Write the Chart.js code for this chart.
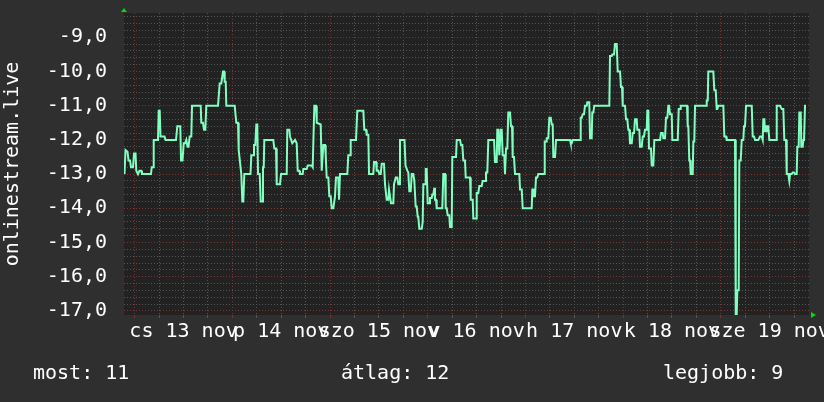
<!DOCTYPE html>
<html lang="hu">
<head>
    <meta charset="UTF-8">
    <title>onlinestream.live</title>
    <script src="https://cdn.jsdelivr.net/npm/chart.js"></script>
    <style>
        * { margin: 0; padding: 0; box-sizing: border-box; }
        body { background: #2f2f2f; font-family: 'DejaVu Sans Mono', monospace; }
        .wrap { position: relative; width: 824px; height: 402px; background: #2f2f2f; }
        .legend { position: absolute; top: 360px; color: #fff; font-size: 20px; line-height: 24px; white-space: pre; }
    </style>
</head>
<body>
<div class="wrap">
    <canvas id="chart" width="824" height="402"></canvas>
    <div class="legend" style="left:33px">most: 11</div>
    <div class="legend" style="left:341px">átlag: 12</div>
    <div class="legend" style="left:663px">legjobb: 9</div>
</div>
<script>
// time in hours since 13 nov 00:00
const hours = [
    -2.51,-2.26,-1.77,-1.52,-1.15,-0.91,-0.42,-0.17,0.2,0.39,
    0.81,1.18,1.62,1.79,4.0,4.18,4.5,4.67,5.72,5.9,
    6.14,6.34,7.32,7.57,10.15,10.47,11.2,11.38,11.74,12.04,
    12.36,12.68,12.97,13.22,13.51,13.91,14.08,16.22,16.36,16.78,
    17.03,17.35,17.59,20.47,20.88,21.28,21.7,21.94,22.11,22.36,
    22.51,24.57,24.96,25.38,25.55,26.19,26.44,26.68,26.93,28.45,
    28.65,29.07,29.31,29.63,29.88,30.12,30.3,30.71,30.96,31.28,
    31.52,31.7,31.84,34.05,34.3,34.72,34.89,35.7,35.95,37.35,
    37.49,37.99,38.16,38.72,39.39,39.8,40.05,40.44,40.61,41.28,
    41.43,42.26,42.51,43.49,43.73,44.13,44.55,44.72,45.7,45.95,
    46.34,46.76,46.93,47.17,47.57,47.81,48.16,48.4,48.8,49.21,
    49.46,50.02,50.2,50.44,52.24,52.48,52.9,53.07,54.37,54.69,
    56.17,56.41,56.83,57.0,57.4,57.57,58.62,58.8,59.29,59.46,
    59.85,60.1,60.44,60.69,61.25,61.5,61.74,61.92,62.31,62.48,
    62.97,63.54,63.71,64.13,64.52,64.77,65.01,65.18,66.29,66.54,
    66.98,67.22,67.47,67.81,68.06,68.45,68.7,69.04,69.29,69.53,
    69.68,69.93,70.52,70.76,70.91,71.33,71.5,71.74,71.99,72.38,
    72.55,72.97,73.12,73.37,73.61,73.78,74.03,74.2,75.58,75.82,
    76.24,76.41,76.66,76.9,77.3,77.47,77.89,78.03,78.94,79.12,
    79.93,80.17,80.49,80.74,81.15,81.33,82.38,82.56,83.05,83.19,
    83.86,84.03,84.42,84.67,85.26,85.5,86.07,86.31,86.63,86.88,
    88.28,88.53,88.94,89.09,89.34,89.58,89.75,89.93,90.17,90.42,
    90.81,90.98,91.23,91.55,91.79,92.21,92.46,92.7,92.87,93.19,
    93.44,94.5,94.67,95.09,95.33,97.54,97.69,97.94,98.11,98.35,
    98.6,98.92,99.16,100.57,100.74,101.06,101.23,101.62,101.87,102.21,
    102.46,102.7,102.85,103.27,103.51,106.95,107.13,107.37,107.62,109.41,
    109.58,109.83,110.07,110.39,110.64,111.06,111.2,111.69,111.87,112.28,
    112.43,112.68,112.92,116.61,116.78,117.2,117.35,117.76,118.01,118.43,
    118.67,119.24,119.48,119.73,119.9,120.47,120.71,121.03,121.28,121.52,
    121.69,122.11,122.36,122.68,122.92,123.34,123.49,123.98,124.15,124.57,
    124.82,125.13,125.38,125.8,125.95,126.19,126.36,126.85,127.03,127.42,
    127.67,129.07,129.31,129.73,129.88,130.29,130.54,130.86,131.11,131.28,
    131.52,131.94,132.09,133.42,133.66,133.98,134.15,135.7,135.87,136.02,
    136.26,136.44,136.61,137.1,137.25,137.49,137.67,140.37,140.54,140.79,
    140.93,142.16,142.41,142.75,143.0,143.14,143.39,144.62,144.87,145.28,
    145.45,147.49,147.67,147.91,148.06,148.4,148.55,148.89,149.14,149.53,
    149.71,149.95,150.2,151.6,151.84,152.16,152.41,153.22,153.64,154.05,
    154.3,154.45,154.69,154.86,155.11,155.28,155.67,155.92,157.57,157.74,
    158.55,158.97,159.36,159.61,160.02,160.2,160.59,160.83,161.01,161.42,
    161.67,161.99,162.24,162.65,162.8,163.14,163.29,163.64,163.78,164.13,
    164.28,164.45,164.69,164.94
];

const values = [
    -13.0,-12.3,-12.35,-12.6,-12.6,-12.8,-12.8,-12.4,-12.4,-12.9,
    -13.0,-12.9,-12.9,-13.0,-13.0,-12.8,-12.8,-12.0,-12.0,-11.15,
    -11.15,-11.9,-11.9,-12.0,-12.0,-11.6,-11.6,-12.6,-12.6,-12.1,
    -12.1,-12.0,-12.2,-12.2,-11.9,-11.9,-11.0,-11.0,-11.5,-11.5,
    -11.7,-11.7,-11.0,-11.0,-10.35,-10.35,-10.0,-10.0,-10.3,-10.3,
    -11.0,-11.0,-11.5,-11.5,-12.3,-13.0,-13.8,-13.8,-13.0,-13.0,
    -12.45,-12.45,-12.15,-12.15,-11.55,-11.55,-13.0,-13.0,-13.8,-13.8,
    -12.8,-12.8,-12.0,-12.0,-12.25,-12.25,-13.3,-13.3,-13.0,-13.0,
    -11.7,-11.7,-11.9,-12.1,-12.0,-12.1,-12.9,-12.9,-13.0,-13.0,
    -12.85,-12.85,-12.75,-12.75,-12.8,-11.0,-11.0,-11.5,-11.55,-12.9,
    -12.15,-12.15,-12.45,-13.1,-13.1,-13.65,-13.65,-14.0,-14.0,-13.65,
    -13.1,-13.1,-13.75,-13.0,-13.0,-12.45,-12.45,-12.0,-12.0,-11.15,
    -11.15,-11.7,-11.7,-11.85,-11.85,-13.0,-13.0,-12.65,-12.65,-12.9,
    -12.9,-13.0,-13.0,-12.7,-12.7,-13.3,-13.3,-13.75,-13.75,-13.45,
    -13.85,-13.85,-13.3,-13.1,-13.1,-13.3,-13.3,-12.0,-12.0,-12.75,
    -12.9,-12.95,-13.5,-13.5,-13.0,-13.0,-13.2,-13.95,-13.95,-14.25,
    -14.25,-14.6,-14.6,-14.4,-13.3,-13.3,-12.85,-12.85,-13.85,-13.85,
    -13.7,-13.7,-13.6,-13.6,-13.4,-13.75,-13.75,-14.0,-14.0,-13.0,
    -13.0,-14.0,-14.0,-14.2,-14.2,-14.55,-14.55,-12.5,-12.5,-12.0,
    -12.0,-12.15,-12.15,-12.6,-12.6,-13.1,-13.1,-13.75,-13.75,-14.3,
    -14.3,-13.55,-13.55,-13.35,-13.35,-13.2,-13.2,-12.95,-12.95,-12.0,
    -12.0,-12.65,-12.65,-11.7,-11.7,-12.45,-12.45,-11.7,-11.7,-12.45,
    -12.45,-13.0,-12.25,-12.25,-11.2,-11.2,-11.6,-11.6,-12.5,-12.5,
    -13.0,-13.0,-13.45,-13.45,-14.0,-14.0,-13.45,-13.45,-13.65,-13.65,
    -13.1,-13.1,-13.0,-13.0,-12.05,-12.05,-11.95,-11.95,-11.35,-11.35,
    -11.55,-11.55,-12.5,-12.5,-12.0,-12.0,-12.1,-12.1,-12.0,-12.0,
    -11.35,-11.35,-11.25,-11.25,-11.0,-11.0,-10.9,-10.9,-11.95,-11.95,
    -11.2,-11.2,-11.0,-11.0,-9.55,-9.55,-9.5,-9.5,-9.2,-9.2,
    -10.0,-10.0,-10.45,-10.45,-11.0,-11.0,-11.4,-11.4,-11.7,-11.7,
    -12.1,-12.1,-11.8,-11.8,-11.4,-11.4,-11.7,-11.7,-12.2,-12.2,
    -11.9,-11.9,-11.7,-11.7,-11.15,-11.15,-12.25,-12.25,-12.75,-12.75,
    -12.0,-12.0,-11.8,-11.8,-11.95,-11.95,-11.35,-11.35,-11.0,-11.0,
    -11.25,-11.25,-12.0,-12.0,-11.1,-11.1,-11.0,-11.0,-11.6,-11.6,
    -12.6,-12.6,-13.0,-13.0,-12.05,-12.05,-11.0,-11.0,-10.85,-10.85,
    -10.0,-10.0,-10.55,-10.55,-11.1,-11.1,-11.0,-11.0,-11.9,-11.9,
    -12.0,-12.0,-17.1,-17.1,-16.4,-16.4,-12.6,-12.6,-12.0,-12.0,
    -11.6,-11.6,-11.0,-11.0,-11.9,-11.9,-12.0,-12.0,-11.9,-11.9,
    -12.0,-11.4,-11.4,-11.75,-11.75,-11.6,-11.6,-12.0,-12.0,-11.0,
    -11.0,-11.1,-11.1,-12.0,-12.0,-13.0,-13.0,-13.2,-13.0,-13.0,
    -12.95,-12.95,-13.0,-13.0,-12.2,-12.2,-11.2,-11.2,-12.2,-12.2,
    -12.0,-12.0,-11.0,-11.0
];

// one label per day, shown at noon
const dayLabels = ['cs 13 nov', 'p 14 nov', 'szo 15 nov', 'v 16 nov', 'h 17 nov', 'k 18 nov', 'sze 19 nov'];

const xMin = -2.63, xMax = 165.67;
const yMin = -17.12, yMax = -8.29;

const MONO = "'DejaVu Sans Mono', monospace";
const GRID_MINOR = '#555555';
const GRID_MAJOR = '#7a3434';

// plot background + rrdtool style green arrows
const frame = {
    id: 'frame',
    beforeDraw(chart) {
        const {ctx, chartArea: a} = chart;
        ctx.save();
        ctx.fillStyle = '#222222';
        ctx.fillRect(a.left, a.top, a.right - a.left, a.bottom - a.top);
        ctx.restore();
    },
    afterDraw(chart) {
        const {ctx, chartArea: a} = chart;
        ctx.save();
        ctx.fillStyle = '#00dd00';
        ctx.beginPath();
        ctx.moveTo(a.left - 3, a.top - 1);
        ctx.lineTo(a.left + 3, a.top - 1);
        ctx.lineTo(a.left, a.top - 5);
        ctx.closePath();
        ctx.fill();
        ctx.beginPath();
        ctx.moveTo(a.right + 2, a.bottom - 3);
        ctx.lineTo(a.right + 2, a.bottom + 3);
        ctx.lineTo(a.right + 7, a.bottom);
        ctx.closePath();
        ctx.fill();
        ctx.restore();
    }
};

// fixed box sizes, no extra label padding around the plot
function noPad(scale) {
    scale.paddingTop = 0;
    scale.paddingBottom = 0;
    scale.paddingLeft = 0;
    scale.paddingRight = 0;
}

new Chart(document.getElementById('chart'), {
    type: 'line',
    data: {
        datasets: [{
            data: hours.map((h, i) => ({x: h, y: values[i]})),
            borderColor: '#80ffc0',
            borderWidth: 2,
            pointRadius: 0,
            tension: 0,
            fill: false
        }]
    },
    options: {
        responsive: false,
        animation: false,
        events: [],
        layout: {padding: {top: 13, right: 15, bottom: 0, left: 0}},
        plugins: {legend: {display: false}, tooltip: {enabled: false}},
        scales: {
            x: {
                type: 'linear',
                min: xMin,
                max: xMax,
                afterBuildTicks(scale) {
                    const t = [];
                    for (let h = 0; h <= xMax; h += 6) t.push({value: h});
                    scale.ticks = t;
                },
                afterFit(scale) { scale.height = 87; noPad(scale); },
                ticks: {
                    autoSkip: false,
                    maxRotation: 0,
                    minRotation: 0,
                    padding: 2,
                    color: '#ffffff',
                    font: {family: MONO, size: 20},
                    callback: v => (v % 24 === 12) ? dayLabels[(v - 12) / 24] : ''
                },
                grid: {
                    drawTicks: true,
                    tickLength: 3,
                    lineWidth: 1,
                    color: ctx => (ctx.tick && ctx.tick.value % 24 === 0) ? GRID_MAJOR : GRID_MINOR
                },
                border: {display: false, dash: [1, 2]}
            },
            y: {
                min: yMin,
                max: yMax,
                afterBuildTicks(scale) {
                    const t = [];
                    for (let i = -85; i <= -42; i++) t.push({value: i / 5});
                    scale.ticks = t;
                },
                afterFit(scale) { scale.width = 124; noPad(scale); },
                ticks: {
                    autoSkip: false,
                    padding: 17,
                    color: '#ffffff',
                    font: {family: MONO, size: 20},
                    callback: v => Math.abs(v - Math.round(v)) < 1e-6 ? v.toFixed(1).replace('.', ',') : ''
                },
                grid: {
                    drawTicks: false,
                    lineWidth: 1,
                    color: ctx => (ctx.tick && Math.abs(ctx.tick.value - Math.round(ctx.tick.value)) < 1e-6) ? GRID_MAJOR : GRID_MINOR
                },
                border: {display: false, dash: [1, 2]},
                title: {
                    display: true,
                    text: 'onlinestream.live',
                    color: '#ffffff',
                    font: {family: MONO, size: 20, lineHeight: 1.2},
                    padding: {top: 1, bottom: 0}
                }
            }
        }
    },
    plugins: [frame]
});
</script>
</body>
</html>
